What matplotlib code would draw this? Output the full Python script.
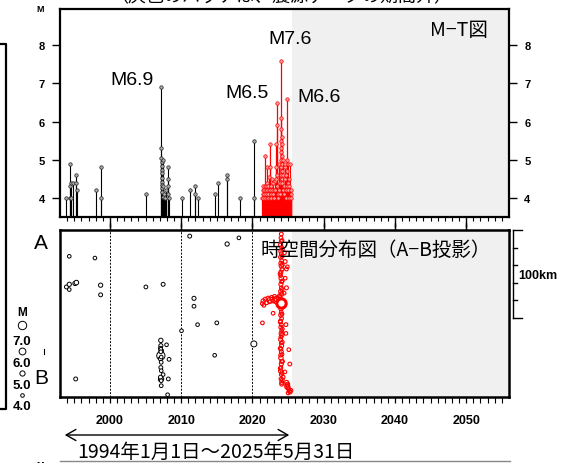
import matplotlib
matplotlib.use("Agg")
import matplotlib.pyplot as plt
from matplotlib.lines import Line2D
from matplotlib.patches import FancyArrowPatch
import matplotlib.transforms as mtransforms
import numpy as np

W, H = 570, 464
JP = ["Noto Sans CJK JP", "DejaVu Sans"]
plt.rcParams["font.family"] = ["Liberation Sans", "DejaVu Sans"]

# ---------------- data ----------------
# M-T diagram, older catalogue (black)
black_mt_year = [1993.9, 1994.4, 1994.4, 1994.45, 1994.6, 1994.6, 1994.8, 1995.3, 1995.3, 1995.35,
                 1998.0, 1998.8, 1998.8, 2005.1,
                 2007.23, 2007.23, 2007.24, 2007.25, 2007.25, 2007.26, 2007.27, 2007.28, 2007.3,
                 2007.32, 2007.35, 2007.38, 2007.4, 2007.45, 2007.5, 2007.6, 2007.7, 2007.9,
                 2008.1, 2008.1, 2008.15, 2008.2, 2008.25,
                 2010.05, 2011.3, 2011.9, 2011.9, 2012.4, 2014.7, 2015.1, 2016.5, 2016.5,
                 2018.2, 2020.2, 2020.2]
black_mt_mag = [4.0, 4.9, 4.3, 4.0, 4.4, 4.0, 4.4, 4.6, 4.4, 4.2,
                4.2, 4.8, 4.0, 4.1,
                6.9, 5.3, 5.05, 4.95, 4.84, 4.73, 4.64, 4.51, 4.42,
                4.34, 4.25, 4.16, 4.03, 5.0, 4.3, 4.1, 4.0, 4.2,
                4.8, 4.5, 4.3, 4.1, 4.0,
                4.0, 4.2, 4.3, 4.1, 4.0, 4.1, 4.4, 4.6, 4.5,
                4.0, 5.5, 4.0]

# M-T diagram, recent sequence (red)
red_mt_year = [2021.38, 2021.42, 2021.45, 2021.5, 2021.55, 2021.6, 2021.65, 2021.74, 2021.74, 2021.8,
               2021.85, 2021.9, 2021.95, 2022.0, 2022.06, 2022.06, 2022.1, 2022.15, 2022.2, 2022.25,
               2022.3, 2022.35, 2022.4, 2022.44, 2022.44, 2022.5, 2022.55, 2022.6, 2022.65, 2022.7,
               2022.8, 2022.85, 2022.9, 2023.0, 2023.05, 2023.1, 2023.2, 2023.28, 2023.28, 2023.33,
               2023.4, 2023.4, 2023.45, 2023.5, 2023.55, 2023.6, 2023.7, 2023.75, 2023.8, 2023.85,
               2023.95, 2024.05, 2024.05, 2024.05, 2024.05, 2024.05, 2024.05, 2024.05, 2024.05, 2024.1,
               2024.1, 2024.1, 2024.1, 2024.15, 2024.15, 2024.2, 2024.25, 2024.3, 2024.35, 2024.4,
               2024.45, 2024.5, 2024.55, 2024.6, 2024.65, 2024.7, 2024.75, 2024.8, 2024.87, 2024.9,
               2024.9, 2024.95, 2025.0, 2025.05, 2025.1, 2025.15, 2025.2, 2025.3, 2025.35, 2025.4,
               2025.45]
red_mt_mag = [4.0, 4.1, 4.2, 4.0, 4.3, 4.1, 4.2, 5.1, 4.3, 4.0,
              4.2, 4.1, 4.3, 4.0, 4.8, 4.4, 4.2, 4.0, 4.3, 4.1,
              4.2, 4.55, 4.0, 5.4, 4.8, 4.2, 4.1, 4.3, 4.0, 4.2,
              4.5, 4.4, 4.1, 4.2, 4.0, 4.45, 4.2, 5.4, 4.8, 4.5,
              6.5, 5.9, 4.3, 4.6, 4.1, 4.0, 4.2, 4.9, 4.4, 4.1,
              5.3, 7.6, 6.1, 5.8, 5.5, 5.2, 5.0, 4.8, 4.6, 5.6,
              5.4, 4.9, 4.5, 5.1, 4.7, 4.4, 4.2, 5.0, 4.6, 4.3,
              4.1, 4.8, 4.5, 4.9, 4.2, 4.0, 4.6, 4.3, 6.6, 5.0,
              4.7, 4.4, 4.9, 4.2, 4.5, 4.0, 4.3, 4.9, 4.2, 4.1,
              4.0]

# space-time diagram (distance from A in km), older catalogue (black)
black_st_year = [1994.3, 1997.9, 1993.9, 1994.3, 1994.3, 1995.1, 1995.3, 1998.7, 1998.7, 1995.2,
                 2005.05, 2007.47, 2011.2, 2016.45, 2018.1, 2011.8, 2011.8, 2012.3, 2015.0, 2010.05,
                 2014.7, 2020.2,
                 2007.15, 2007.15, 2007.1, 2007.2, 2007.05, 2007.15, 2007.1, 2007.2, 2007.15, 2007.2,
                 2007.15, 2007.3, 2007.2, 2007.95, 2008.3, 2008.2, 2008.1, 2007.47, 2007.15, 2007.15,
                 2007.2, 2007.1, 2007.2]
black_st_km = [30, 32, 65, 62, 68, 61, 60, 63, 74, 170,
               65, 62, 7, 16, 9, 78, 87, 108, 106, 115,
               143, 130,
               126, 132, 135, 138, 141, 143.5, 147, 151, 157, 160.6,
               170.5, 170, 177.7, 131, 147.6, 170, 188, 165, 136,
               139, 145, 168, 172]
black_st_mag = [4.0, 4.0, 4.2, 4.4, 4.0, 4.4, 4.6, 4.4, 4.2, 4.2,
                4.1, 4.2, 4.2, 4.4, 4.0, 4.3, 4.1, 4.0, 4.1, 4.0,
                4.0, 5.5,
                4.5, 4.3, 4.2, 4.6, 4.3, 6.9, 4.4, 4.1, 4.2, 4.0,
                4.8, 4.0, 4.1, 4.0, 4.1, 4.1, 4.0, 4.0, 4.0,
                4.1, 4.0, 4.2, 4.0]

# space-time diagram, recent sequence (red)
red_st_year = [2021.4, 2021.5, 2021.6, 2021.8, 2022.0, 2022.2, 2022.4, 2022.5, 2022.7, 2022.9,
               2023.1, 2023.3, 2023.4, 2023.6, 2023.8, 2021.4, 2022.9,
               2024.05, 2024.0, 2024.05, 2023.95, 2024.1, 2024.0, 2024.05, 2023.95, 2024.1, 2024.0,
               2024.05, 2024.15, 2024.0, 2023.95, 2024.05, 2024.1, 2024.0, 2024.05, 2023.95, 2024.1,
               2024.0, 2024.05, 2024.0, 2024.1, 2023.95, 2024.05, 2024.0, 2024.1, 2024.05, 2024.0,
               2023.95, 2024.05, 2024.1, 2024.0, 2024.05, 2023.95, 2024.0, 2024.1, 2024.05, 2024.0,
               2023.95, 2024.05, 2024.0, 2024.1,
               2024.2, 2024.15, 2024.2, 2023.9, 2024.2, 2024.15, 2023.9, 2024.2, 2024.15, 2023.9,
               2024.2, 2024.15, 2024.2, 2023.9, 2024.15, 2024.2, 2023.9, 2024.15, 2024.2, 2024.15,
               2024.77, 2024.9, 2024.6, 2024.77, 2024.7, 2025.1, 2025.24, 2024.55, 2024.3, 2024.1,
               2024.8, 2024.85, 2024.9, 2024.95, 2025.0, 2025.1, 2025.2, 2025.3, 2025.4, 2025.0,
               2024.5, 2024.6, 2024.45, 2024.7]
red_st_km = [84, 81, 86, 79, 83, 78, 82, 80, 77, 81,
             76, 79, 80, 78, 75, 106, 95,
             4.6, 9, 13, 17, 20, 24, 27, 31, 35, 38,
             41, 45, 48, 52, 55, 59, 62, 66, 70, 73,
             90, 94, 97, 101, 104, 108, 111, 115, 118, 122,
             125, 129, 132, 136, 139, 143, 146, 150, 153, 157,
             161, 165, 170, 174,
             22, 30, 40, 50, 58, 68, 76, 88, 96, 105,
             113, 120, 128, 135, 142, 150, 158, 163, 171, 12,
             44.5, 42, 55, 66, 108, 136.6, 153, 162, 168, 176,
             174, 177, 179, 176, 180, 182, 184, 185, 183, 186,
             26, 36, 72, 118]
red_st_mag = [4.1, 4.3, 4.0, 4.2, 4.1, 4.4, 4.0, 5.4, 4.2, 4.1,
              4.3, 4.5, 6.5, 4.0, 4.2, 4.0, 4.0,
              4.1, 4.0, 4.2, 4.3, 4.0, 4.4, 4.1, 4.2, 4.0, 4.3,
              4.5, 4.1, 4.2, 4.0, 4.6, 4.1, 4.3, 4.0, 4.2, 4.4,
              4.3, 4.1, 4.5, 4.0, 4.2, 4.1, 4.3, 4.0, 4.4, 4.1,
              4.2, 4.0, 4.3, 4.1, 4.2, 4.0, 4.5, 4.1, 4.2, 4.0,
              4.3, 4.1, 4.0, 4.2,
              4.0, 4.1, 4.0, 4.2, 4.0, 4.1, 4.0, 4.2, 4.0, 4.1,
              4.0, 4.2, 4.0, 4.1, 4.0, 4.2, 4.0, 4.1, 4.0, 4.1,
              4.1, 4.0, 4.0, 4.2, 4.1, 4.0, 4.1, 4.0, 4.2, 4.1,
              4.3, 4.5, 5.0, 4.2, 4.1, 4.0, 4.3, 4.0, 4.1, 4.0,
              4.0, 4.1, 4.0, 4.0]

mainshock = (2024.0, 83, 7.6)

legend_mags = [7.0, 6.0, 5.0, 4.0]
decades = [2000, 2010, 2020, 2030, 2040, 2050]
dotted_years = [2000, 2010, 2020]
data_end = 2025.6          # start of the grey "outside data period" area
x_range = (1993.0, 2056.0)
m_range = (3.5, 8.95)
km_range = (190.6, 0.0)


def msize(m):
    d_px = 3.6 + 1.6 * (np.asarray(m, dtype=float) - 4.0)
    return (d_px * 0.72) ** 2


def fx(px):
    return px / W


def fy(py):
    return 1 - py / H


fig = plt.figure(figsize=(W / 100, H / 100), dpi=100)
ax1 = fig.add_axes([fx(60), fy(218), 449 / W, 208 / H])
ax2 = fig.add_axes([fx(60), fy(398), 449 / W, 167 / H])

# ---------------- M-T diagram ----------------
ax1.axvspan(data_end, x_range[1], color="#f0f0f0", lw=0, zorder=0)
ax1.vlines(black_mt_year, m_range[0], black_mt_mag, color="black", lw=0.8, zorder=2)
ax1.plot(black_mt_year, black_mt_mag, "o", ms=2.5, mfc="#aaaaaa", mec="#222222", mew=0.5, zorder=3)
ax1.vlines(red_mt_year, m_range[0], red_mt_mag, color="red", lw=0.9, zorder=2)
ax1.plot(red_mt_year, red_mt_mag, "o", ms=2.5, mfc="#ff9a9a", mec="red", mew=0.5, zorder=3)

ax1.set_xlim(*x_range)
ax1.set_ylim(*m_range)
ax1.set_xticks(decades)
ax1.set_xticks(np.arange(1994, 2056), minor=True)
ax1.tick_params(axis="x", which="major", direction="out", length=7, width=1.0, labelbottom=False)
ax1.tick_params(axis="x", which="minor", direction="out", length=3, width=0.8)
ax1.set_yticks([4, 5, 6, 7, 8])
ax1.tick_params(axis="y", direction="out", length=6, width=1.0, left=True, right=True,
                labelleft=True, labelright=True, labelsize=8, pad=5)
for lab in ax1.get_yticklabels():
    lab.set_fontweight("bold")
for sp in ax1.spines.values():
    sp.set_linewidth(1.6)

fig.text(fx(40), fy(10), "M", fontsize=6.5, fontweight="bold", ha="center", va="center")
fig.text(fx(132), fy(81), "M6.9", fontsize=14, ha="center", va="center")
fig.text(fx(290), fy(40), "M7.6", fontsize=14, ha="center", va="center")
fig.text(fx(247), fy(94), "M6.5", fontsize=14, ha="center", va="center")
fig.text(fx(319), fy(97), "M6.6", fontsize=14, ha="center", va="center")
fig.text(fx(459), fy(31), "M−T図", fontsize=14, family=JP, ha="center", va="center")

# ---------------- space-time diagram ----------------
ax2.axvspan(data_end, x_range[1], color="#f0f0f0", lw=0, zorder=0)
for yr in dotted_years:
    ax2.axvline(yr, color="black", lw=0.7, ls=(0, (2, 1.5)), zorder=1)
ax2.scatter(black_st_year, black_st_km, s=msize(black_st_mag), facecolor="white",
            edgecolor="black", lw=0.7, zorder=3)
ax2.scatter(red_st_year, red_st_km, s=msize(red_st_mag), facecolor="none",
            edgecolor="red", lw=0.8, zorder=4)
ax2.scatter([mainshock[0]], [mainshock[1]], s=msize([mainshock[2]]), facecolor="white",
            edgecolor="red", lw=2.2, zorder=5)

ax2.set_xlim(*x_range)
ax2.set_ylim(*km_range)
ax2.set_yticks([])
ax2.set_xticks(decades)
ax2.set_xticklabels([str(d) for d in decades], fontsize=9, fontweight="bold")
ax2.set_xticks(np.arange(1994, 2056), minor=True)
ax2.tick_params(axis="x", which="major", direction="out", length=4, width=0.9,
                top=True, pad=8)
ax2.tick_params(axis="x", which="minor", direction="out", length=4, width=0.8)
for sp in ax2.spines.values():
    sp.set_linewidth(1.8)

# top decade ticks a little longer
btr = mtransforms.blended_transform_factory(ax2.transData, ax2.transAxes)
for d in decades:
    ax2.plot([d, d], [1.0, 1.04], transform=btr, color="black", lw=0.9, clip_on=False)

fig.text(fx(376), fy(250), "時空間分布図（A−B投影）", fontsize=14, family=JP,
         ha="center", va="center", zorder=6)
fig.text(fx(41), fy(244), "A", fontsize=15, ha="center", va="center")
fig.text(fx(41), fy(379), "B", fontsize=15, ha="center", va="center")

# 100 km scale bar
tb = mtransforms.blended_transform_factory(ax2.transAxes, ax2.transData)
xb = (513 - 60) / 449
ax2.plot([xb, xb], [0, 100], transform=tb, color="black", lw=1.0, clip_on=False)
for k in [0, 20, 40, 60, 80, 100]:
    ln = 9 if k in (0, 100) else 4
    ax2.plot([xb, xb + ln / 449], [k, k], transform=tb, color="black", lw=1.0, clip_on=False)
fig.text(fx(538), fy(276), "100km", fontsize=9, fontweight="bold", ha="center", va="center")

# magnitude legend
fig.text(fx(22), fy(313), "M", fontsize=8.5, fontweight="bold", ha="center", va="center")
leg_y = [326, 352, 374, 396]
lab_y = [342, 364, 386, 407]
for m, cy, ly in zip(legend_mags, leg_y, lab_y):
    fig.add_artist(Line2D([fx(22)], [fy(cy)], marker="o", ms=np.sqrt(msize(m)),
                          mfc="white", mec="black", mew=0.7, ls="none"))
    fig.text(fx(22), fy(ly), f"{m:.1f}", fontsize=9.5, fontweight="bold", ha="center", va="center")
fig.add_artist(Line2D([fx(44), fx(44)], [fy(350), fy(355)], color="black", lw=0.8))

# period arrow and label
fig.add_artist(FancyArrowPatch((fx(62), fy(436)), (fx(292), fy(436)), transform=fig.transFigure,
                               arrowstyle="<->,head_length=7,head_width=4", lw=1.0,
                               color="black", mutation_scale=1))
fig.text(fx(216), fy(452), "1994年1月1日～2025年5月31日", fontsize=14, family=JP,
         ha="center", va="center")

# neighbouring panels (cut off in the screenshot)
fig.text(fx(281), fy(-3), "（灰色のハッチは、震源データの期間外）", fontsize=13, family=JP,
         ha="center", va="center")
fig.add_artist(Line2D([fx(0), fx(6), fx(6), fx(0)], [fy(45), fy(45), fy(410), fy(410)],
                      color="black", lw=1.6))
fig.add_artist(Line2D([fx(60), fx(510)], [fy(462), fy(462)], color="#888888", lw=1.0))
fig.text(fx(40), fy(466), "M", fontsize=6.5, fontweight="bold", ha="center", va="center")

fig.savefig("out.png", dpi=100, facecolor="white")
